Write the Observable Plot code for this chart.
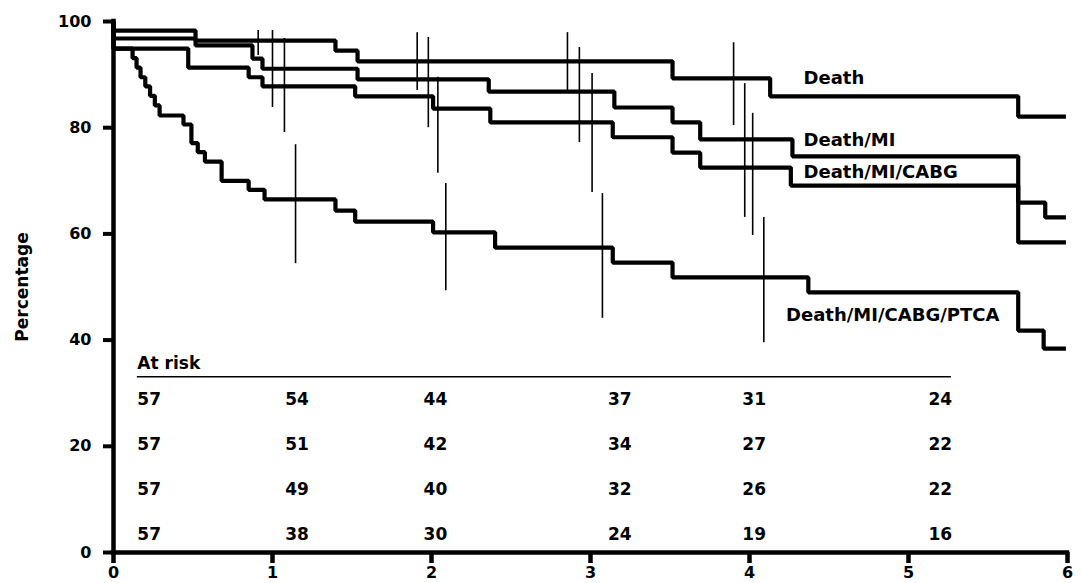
<!DOCTYPE html>
<html><head><meta charset="utf-8">
<script src="https://cdn.jsdelivr.net/npm/d3@7"></script>
<script src="https://cdn.jsdelivr.net/npm/@observablehq/plot@0.6"></script>
<style>html,body{margin:0;padding:0;background:#fff;} svg{display:block}</style>
</head><body><div id="chart"></div>
<script>
// ---- data (years, percentage event-free) ----
const deathT = [0, 0, 0.516, 1.396, 1.535, 3.516, 4.13, 5.69, 5.99];
const deathV = [100, 98.3, 96.4, 94.5, 92.5, 89.3, 85.9, 82.1, 82.1];

const miT = [0, 0, 0.516, 0.874, 0.937, 1.535, 2.36, 3.15, 3.516, 3.69, 4.27, 5.69, 5.86, 5.99];
const miV = [100, 96.8, 95.5, 93.0, 91.1, 89.1, 86.8, 83.8, 81.0, 77.8, 74.6, 65.9, 63.1, 63.1];

const cabgT = [0, 0, 0.47, 0.85, 0.937, 1.52, 2.01, 2.37, 3.14, 3.516, 3.69, 4.26, 5.69, 5.99];
const cabgV = [100, 94.9, 91.3, 89.5, 87.8, 85.9, 83.6, 81.0, 78.2, 75.3, 72.5, 69.1, 58.4, 58.4];

const ptcaT = [0, 0, 0.12, 0.145, 0.17, 0.20, 0.23, 0.26, 0.29, 0.44, 0.49, 0.53, 0.575, 0.68, 0.85, 0.95, 1.396, 1.52, 2.01, 2.40, 3.14, 3.516, 4.37, 5.69, 5.85, 5.99];
const ptcaV = [100, 94.9, 93.1, 91.3, 89.5, 87.8, 86.0, 84.2, 82.3, 80.6, 77.1, 75.4, 73.6, 70.0, 68.3, 66.5, 64.4, 62.3, 60.3, 57.4, 54.6, 51.8, 49.0, 41.8, 38.4, 38.4];

// confidence interval bars
const ciT  = [0.91, 1.0, 1.075, 1.145, 1.91, 1.98, 2.04, 2.09, 2.855, 2.93, 3.01, 3.075, 3.9, 3.97, 4.02, 4.09];
const ciLo = [93.6, 83.8, 79.1, 54.4, 87.0, 80.0, 71.4, 49.3, 87.0, 77.2, 67.8, 44.1, 80.4, 63.1, 59.7, 39.5];
const ciHi = [98.3, 98.3, 96.8, 76.8, 97.9, 97.0, 89.5, 69.5, 97.9, 95.1, 90.2, 67.6, 96.0, 88.3, 82.7, 63.1];

// curve labels
const labelText = ["Death", "Death/MI", "Death/MI/CABG", "Death/MI/CABG/PTCA"];
const labelT = [4.34, 4.34, 4.34, 4.23];
const labelV = [89.4, 77.6, 71.7, 44.7];

// at-risk table
const riskTitle = "At risk";
const riskTimes = [0.15, 1.08, 1.95, 3.11, 3.955, 5.125];
const riskRowY = [28.8, 20.3, 11.9, 3.4];
const riskRows = [
  [57, 54, 44, 37, 31, 24],
  [57, 51, 42, 34, 27, 22],
  [57, 49, 40, 32, 26, 22],
  [57, 38, 30, 24, 19, 16]
];
const riskTitleY = 35.6;
const riskRuleY = 33.1;
const riskRuleEnd = 5.27;

const xTicks = [0, 1, 2, 3, 4, 5, 6];
const yTicks = [0, 20, 40, 60, 80, 100];
const yLabel = "Percentage";

// ---- build tables ----
const series = [
  {name: "Death", t: deathT, v: deathV},
  {name: "Death/MI", t: miT, v: miV},
  {name: "Death/MI/CABG", t: cabgT, v: cabgV},
  {name: "Death/MI/CABG/PTCA", t: ptcaT, v: ptcaV}
];
const curveData = series.flatMap(s => s.t.map((t, i) => ({series: s.name, t, v: s.v[i]})));
const ciData = ciT.map((t, i) => ({t, lo: ciLo[i], hi: ciHi[i]}));
const labelData = labelText.map((text, i) => ({text, t: labelT[i], v: labelV[i]}));
const riskData = riskRows.flatMap((row, r) => row.map((n, c) => ({t: riskTimes[c], y: riskRowY[r], n: String(n)})));

const FONT = "DejaVu Sans";

const chart = Plot.plot({
  width: 1082,
  height: 583,
  marginLeft: 113,
  marginRight: 15,
  marginTop: 21,
  marginBottom: 31,
  x: {domain: [0, 6]},
  y: {domain: [0, 100]},
  style: {fontFamily: FONT, fontWeight: "bold", fontSize: "16px", background: "white", color: "black", overflow: "visible"},
  marks: [
    // tick labels only (ticks drawn as thick rules below)
    Plot.axisY({ticks: yTicks, tickSize: 0, tickPadding: 22, label: null, fontSize: 16, fontWeight: "bold", tickFormat: d => String(d)}),
    Plot.axisX({ticks: xTicks, tickSize: 0, tickPadding: 14, label: null, fontSize: 16, fontWeight: "bold", tickFormat: d => String(d)}),
    Plot.ruleY(yTicks, {x1: 0, x2: 0, insetLeft: -10, strokeWidth: 4, stroke: "black"}),
    Plot.ruleX(xTicks, {y1: 0, y2: 0, insetBottom: -11, strokeWidth: 4.5, stroke: "black"}),
    Plot.ruleX([0], {y1: 0, y2: 100, strokeWidth: 4.5, strokeLinecap: "square"}),
    Plot.ruleY([0], {x1: 0, x2: 6, strokeWidth: 4.5, strokeLinecap: "square"}),
    Plot.line(curveData, {x: "t", y: "v", z: "series", curve: "step-after", stroke: "black", strokeWidth: 4.2, strokeLinejoin: "miter", strokeLinecap: "butt"}),
    Plot.ruleX(ciData, {x: "t", y1: "lo", y2: "hi", stroke: "black", strokeWidth: 1.6}),
    Plot.text(labelData, {x: "t", y: "v", text: "text", textAnchor: "start", fontSize: 18, fontWeight: "bold", fill: "black"}),
    Plot.text([riskTitle], {x: riskTimes[0], y: riskTitleY, text: d => d, textAnchor: "start", fontSize: 17, fontWeight: "bold"}),
    Plot.ruleY([riskRuleY], {x1: riskTimes[0], x2: riskRuleEnd, strokeWidth: 1.3, stroke: "black"}),
    Plot.text(riskData, {x: "t", y: "y", text: "n", textAnchor: "start", fontSize: 17, fontWeight: "bold"}),
    Plot.text([yLabel], {frameAnchor: "left", dx: -91, rotate: -90, textAnchor: "middle", text: d => d, fontSize: 17, fontWeight: "bold"})
  ]
});
document.getElementById("chart").appendChild(chart);
</script>
</body></html>
